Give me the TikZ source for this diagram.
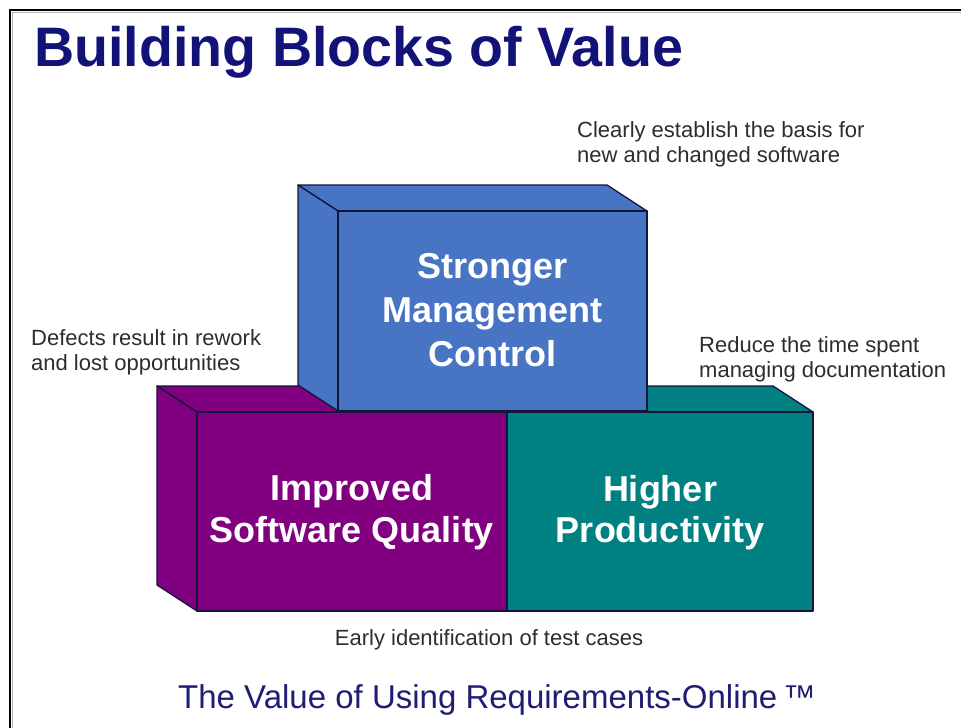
\documentclass[tikz,border=0pt]{standalone}
\usepackage{fontspec}
\setmainfont{Liberation Sans}
\definecolor{navy}{RGB}{18,18,120}
\definecolor{navytwo}{RGB}{30,30,115}
\definecolor{blueface}{RGB}{72,116,196}
\definecolor{purpleface}{RGB}{128,0,128}
\definecolor{tealface}{RGB}{0,128,128}
\definecolor{edge}{RGB}{20,20,60}
\definecolor{notegray}{RGB}{45,45,45}
\tikzset{
  face/.style={draw=edge, line width=1.3pt, line join=round},
  blocktext/.style={anchor=base, text=white, font=\bfseries\fontsize{36}{40}\selectfont, inner sep=0pt},
  note/.style={anchor=base west, text=notegray, font=\fontsize{22}{25}\selectfont, inner sep=0pt},
}
\begin{document}
\begin{tikzpicture}[x=1pt,y=-1pt]
\useasboundingbox (0,0) rectangle (961,728);
\fill[white] (0,0) rectangle (961,728);
% frame
\draw[gray!60, line width=1.5pt] (12.5,728) -- (12.5,12.5) -- (961,12.5);
\draw[black, line width=2.5pt] (10,728) -- (10,10) -- (961,10);

% title
\node[anchor=base west, inner sep=0pt, text=navy, font=\bfseries\fontsize{55.6}{60}\selectfont] (title) at (34,66) {Building Blocks of Value};

% purple block
\filldraw[face, fill=purpleface] (157,386) -- (467,386) -- (507,412) -- (197,412) -- cycle;
\filldraw[face, fill=purpleface] (157,386) -- (197,412) -- (197,611) -- (157,585) -- cycle;
\filldraw[face, fill=purpleface] (197,412) rectangle (507,611);
% teal block
\filldraw[face, fill=tealface] (467,386) -- (773,386) -- (813,412) -- (507,412) -- cycle;
\filldraw[face, fill=tealface] (507,412) rectangle (813,611);
% blue block
\filldraw[face, fill=blueface] (298,185) -- (607,185) -- (647,211) -- (338,211) -- cycle;
\filldraw[face, fill=blueface] (298,185) -- (338,211) -- (338,411) -- (298,385) -- cycle;
\filldraw[face, fill=blueface] (338,211) rectangle (647,411);

% block texts
\node[blocktext] (s1) at (492.5,278) {Stronger};
\node[blocktext] (s2) at (492.5,322) {Management};
\node[blocktext] (q1) at (352,500) {Improved};
\node[blocktext] (s3) at (492.5,366) {Control};
\node[blocktext] (q2) at (352,542) {Software Quality};
\node[blocktext] (p1) at (660,501) {Higher};
\node[blocktext] (p2) at (660,542) {Productivity};

% notes
\node[note] (n1a) at (577,137) {Clearly establish the basis for};
\node[note] (n1b) at (577,162) {new and changed software};
\node[note] (n2a) at (31,345) {Defects result in rework};
\node[note] (n2b) at (31,370) {and lost opportunities};
\node[note] (n3a) at (699,352) {Reduce the time spent};
\node[note] (n3b) at (699,377) {managing documentation};
\node[note, anchor=base] (n4) at (489,645) {Early identification of test cases};

% bottom caption
\node[anchor=base west, inner sep=0pt, text=navytwo, font=\fontsize{33}{36}\selectfont] (caption) at (178,708) {The Value of Using Requirements-Online\,™};
\end{tikzpicture}
\end{document}
